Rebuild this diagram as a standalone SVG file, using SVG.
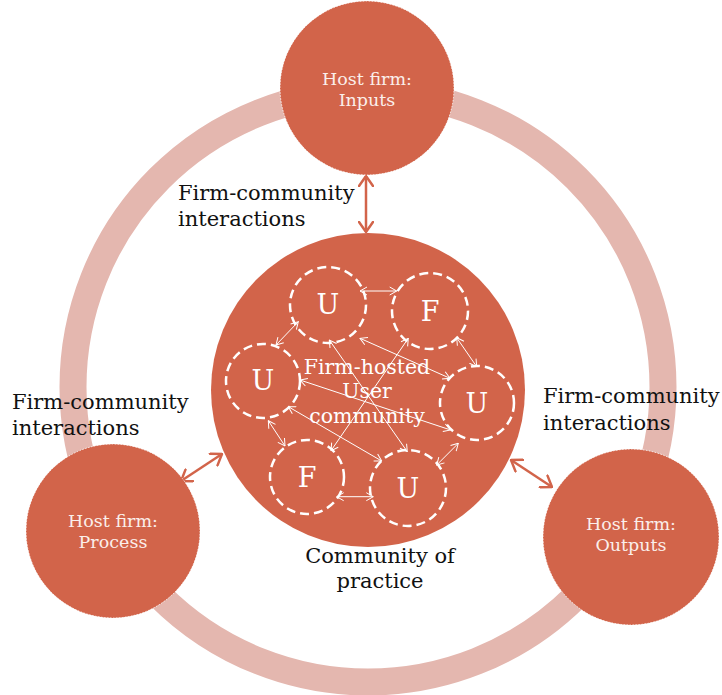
<svg xmlns="http://www.w3.org/2000/svg" width="722" height="695" viewBox="0 0 722 695">
  <style>
    .ring { fill: none; stroke: #E4B7AF; stroke-width: 27; }
    .host { fill: #D2644A; stroke: #FFFFFF; stroke-width: 0.8; stroke-dasharray: 1.5 1.5; }
    .core { fill: #D2644A; }
    .member { fill: none; stroke: #FFFFFF; stroke-width: 2.5; stroke-dasharray: 9 5; }
    .htext { font-family: "DejaVu Serif", "Liberation Serif", serif; font-size: 17.5px; fill: #FBEFEB; text-anchor: middle; }
    .label { font-family: "DejaVu Serif", "Liberation Serif", serif; font-size: 21px; fill: #111111; }
    .letter { font-family: "DejaVu Serif", "Liberation Serif", serif; font-size: 27px; fill: #FFFFFF; text-anchor: middle; }
    .ctext { font-family: "DejaVu Serif", "Liberation Serif", serif; font-size: 20.5px; fill: #FFFFFF; text-anchor: middle; }
    .outer { stroke: #D2644A; stroke-width: 2.5; fill: none; marker-start: url(#headBig); marker-end: url(#headBig); }
    .inner { stroke: #FFFFFF; stroke-width: 1; fill: none; marker-start: url(#headSmall); marker-end: url(#headSmall); }
  </style>
  <defs>
    <marker id="headBig" viewBox="0 0 12 16" refX="11" refY="8" markerWidth="12" markerHeight="16" markerUnits="userSpaceOnUse" orient="auto-start-reverse">
      <path d="M1,1 L11,8 L1,15" fill="none" stroke="#D2644A" stroke-width="2.5" stroke-linecap="round" stroke-linejoin="miter"/>
    </marker>
    <marker id="headSmall" viewBox="0 0 8 10" refX="7.5" refY="5" markerWidth="8" markerHeight="10" markerUnits="userSpaceOnUse" orient="auto-start-reverse">
      <path d="M0.5,1 L7.5,5 L0.5,9" fill="none" stroke="#FFFFFF" stroke-width="1"/>
    </marker>
  </defs>

  <rect width="722" height="695" fill="#FFFFFF"/>

  <!-- cycle ring behind the host-firm nodes -->
  <circle class="ring" cx="368" cy="387" r="295"/>

  <!-- connectors -->
  <g id="connectors">
    <line class="outer" x1="366" y1="176" x2="366" y2="232"/>
    <line class="outer" x1="181" y1="481" x2="222" y2="454"/>
    <line class="outer" x1="511" y1="460" x2="552" y2="487"/>
  </g>

  <g id="host-inputs">
    <circle class="host" cx="367" cy="88" r="87"/>
    <text class="htext" x="367" y="85">Host firm:</text>
    <text class="htext" x="367" y="106">Inputs</text>
  </g>

  <g id="host-process">
    <circle class="host" cx="113" cy="531" r="87"/>
    <text class="htext" x="113" y="527">Host firm:</text>
    <text class="htext" x="113" y="548">Process</text>
  </g>

  <g id="host-outputs">
    <circle class="host" cx="631" cy="537" r="88"/>
    <text class="htext" x="631" y="530">Host firm:</text>
    <text class="htext" x="631" y="551">Outputs</text>
  </g>

  <g id="community">
    <circle class="core" cx="368" cy="390" r="157"/>
    <text class="ctext" x="367" y="374">Firm-hosted</text>
    <text class="ctext" x="367" y="398">User</text>
    <text class="ctext" x="367" y="423">community</text>
  </g>

  <!-- members of the community -->
  <g id="member-u1"><circle class="member" cx="328" cy="305" r="38"/><text class="letter" x="328" y="314">U</text></g>
  <g id="member-f1"><circle class="member" cx="430" cy="311" r="38"/><text class="letter" x="430" y="321">F</text></g>
  <g id="member-u2"><circle class="member" cx="263" cy="381" r="37"/><text class="letter" x="263" y="390">U</text></g>
  <g id="member-u3"><circle class="member" cx="477" cy="403" r="37"/><text class="letter" x="477" y="413">U</text></g>
  <g id="member-f2"><circle class="member" cx="307" cy="477" r="37"/><text class="letter" x="307" y="487">F</text></g>
  <g id="member-u4"><circle class="member" cx="408" cy="488" r="38"/><text class="letter" x="408" y="498">U</text></g>

  <g id="member-links">
    <line class="inner" x1="360" y1="291" x2="396.7" y2="291"/>
    <line class="inner" x1="298.3" y1="321.7" x2="276" y2="345"/>
    <line class="inner" x1="456.7" y1="337.7" x2="476.7" y2="366.7"/>
    <line class="inner" x1="329.3" y1="340" x2="407.3" y2="451.7"/>
    <line class="inner" x1="408.3" y1="338.3" x2="331" y2="450.7"/>
    <line class="inner" x1="360" y1="338.3" x2="450" y2="378.3"/>
    <line class="inner" x1="300" y1="380" x2="450.7" y2="430"/>
    <line class="inner" x1="288.3" y1="406.7" x2="381.7" y2="461"/>
    <line class="inner" x1="268.3" y1="420.7" x2="285" y2="446"/>
    <line class="inner" x1="458.3" y1="443.3" x2="436.7" y2="465"/>
    <line class="inner" x1="336.7" y1="496.7" x2="373.3" y2="496.7"/>
  </g>

  <g id="labels">
    <text class="label" x="178" y="200">Firm-community</text>
    <text class="label" x="178" y="226">interactions</text>
    <text class="label" x="12" y="409">Firm-community</text>
    <text class="label" x="12" y="435">interactions</text>
    <text class="label" x="543" y="403">Firm-community</text>
    <text class="label" x="543" y="430">interactions</text>
    <text class="label" x="380" y="563" text-anchor="middle">Community of</text>
    <text class="label" x="380" y="588" text-anchor="middle">practice</text>
  </g>
</svg>
